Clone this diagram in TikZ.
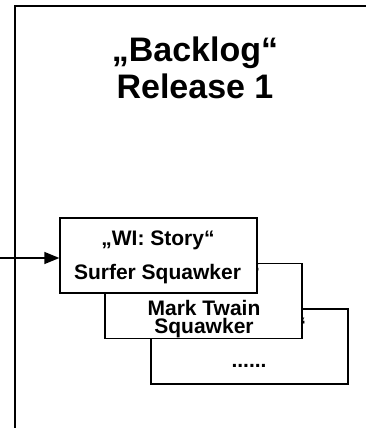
\documentclass[tikz,border=0pt]{standalone}
\usepackage{fontspec}
\setmainfont{Liberation Sans}
\usetikzlibrary{arrows.meta, positioning}

\tikzset{
  card/.style={draw, fill=white, line width=1.3pt, minimum width=197pt, minimum height=75pt, inner sep=0pt},
  lbl/.style={font=\fontsize{21}{18}\selectfont\bfseries, align=center, inner sep=0pt},
  ttl/.style={font=\fontsize{34}{37}\selectfont\bfseries, align=center, inner sep=0pt}
}

\begin{document}
\begin{tikzpicture}[x=1pt,y=-1pt]
\useasboundingbox (0,0) rectangle (367,428);
% Rahmen des Backlogs
\draw[line width=1.3pt] (15,428) -- (15,6) -- (366,6);
\node[ttl] (title) at (195,68) {„Backlog“\\Release 1};
% Karten, hinterste zuerst
\node[card] (card3) at (249.5,346.5) {};
\node[lbl,anchor=north] (head3) at (249.5,318) {„WI: Story“};
\node[lbl] (text3) at (249,366) {......};
\node[card] (card2) at (203.5,301) {};
\node[lbl,anchor=north] (head2) at (203.5,265) {„WI: Story“};
\node[lbl] (text2) at (204,319) {Mark Twain\\Squawker};
\node[card] (card1) at (158.5,255.5) {};
\node[lbl] (head1) at (158,240) {„WI: Story“};
\node[lbl] (text1) at (157.5,274) {Surfer Squawker};
% Zufluss
\coordinate (src) at (0,258);
\draw[line width=1.3pt,-{Triangle[length=15pt,width=12pt]}] (src) -- (card1.west |- src);
\end{tikzpicture}
\end{document}
